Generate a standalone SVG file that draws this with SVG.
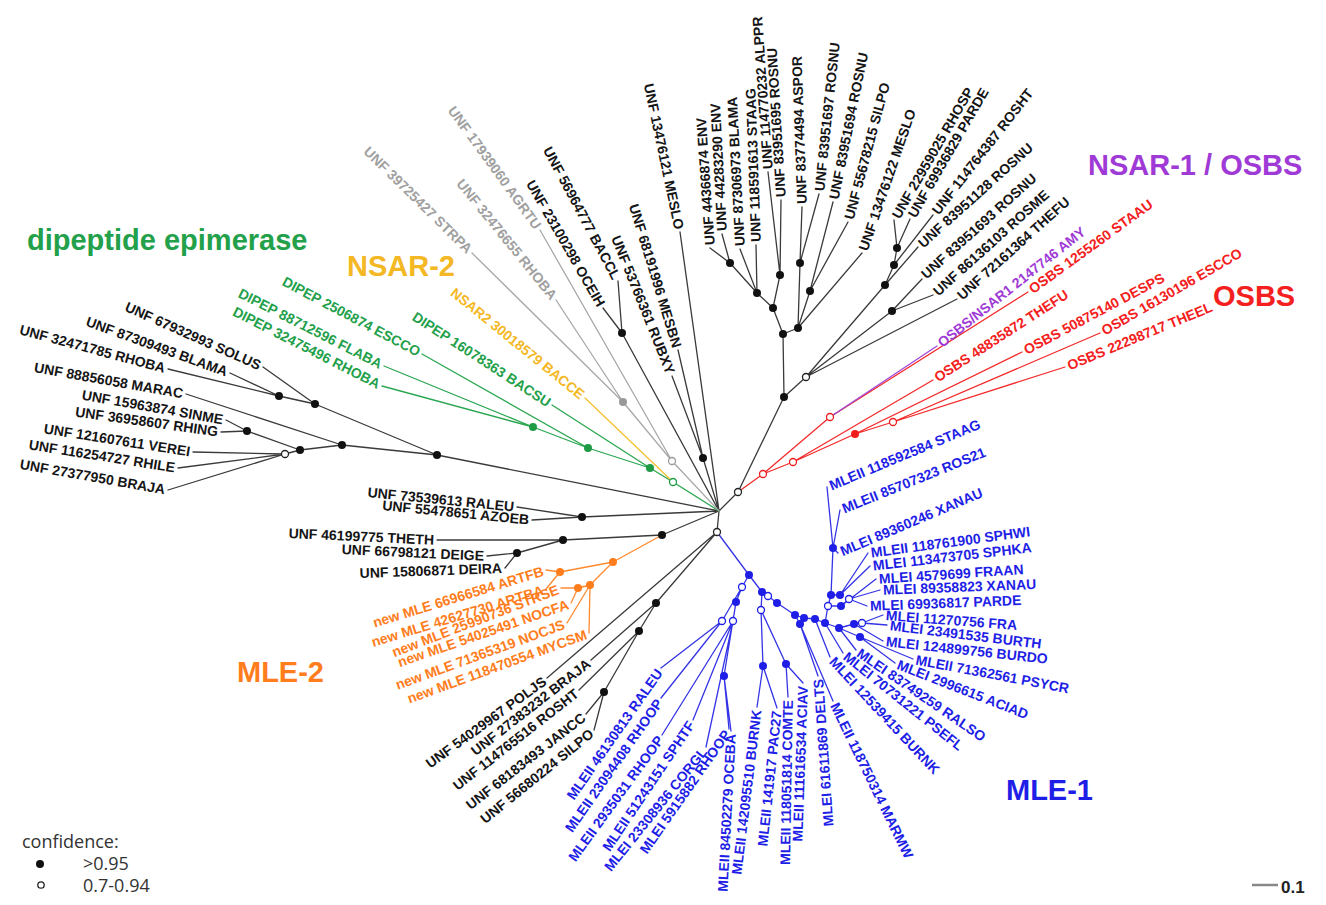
<svg xmlns="http://www.w3.org/2000/svg" width="1326" height="905" viewBox="0 0 1326 905">
<style>
text{font-family:"Liberation Sans",Arial,sans-serif;font-size:14px;font-weight:bold}
.e{text-anchor:end}
.big{font-size:29px}
.k{fill:#151515}.g{fill:#22a04a}.y{fill:#f3b823}.gr{fill:#a0a0a0}.p{fill:#a03ad6}.r{fill:#f42020}.o{fill:#ff7d1c}.b{fill:#1e1ee6}
.ln{fill:none;stroke-width:1.3;stroke-linecap:round}
.lk{stroke:#3a3a3a}.lg{stroke:#2aa650}.ly{stroke:#f5c030}.lgr{stroke:#a8a8a8}.lr{stroke:#f42a2a}.lp{stroke:#a048d8}.lo{stroke:#ff8a30}.lb{stroke:#3434e6}
.fk{fill:#111}.fg{fill:#1f9a45}.fgr{fill:#999}.fr{fill:#f01c1c}.fo{fill:#ff7d1c}.fb{fill:#1e1ee6}
.ok{fill:#fff;stroke:#222;stroke-width:1.3}.og{fill:#fff;stroke:#1f9a45;stroke-width:1.3}.ogr{fill:#fff;stroke:#999;stroke-width:1.3}.or{fill:#fff;stroke:#f01c1c;stroke-width:1.3}.ob{fill:#fff;stroke:#1e1ee6;stroke-width:1.3}
.leg{font-family:"Open Sans","Liberation Sans",sans-serif;font-weight:normal;font-size:18px;fill:#333}
</style>
<rect width="1326" height="905" fill="#fff"/>
<g id="connectors">
<path class="ln lk" d="M719,511L437,455M437,455L315,404M315,404L263,367M315,404L279,396M279,396L230,373M279,396L168,369M437,455L342,445M342,445L186,394M342,445L300,450M300,450L247,431M247,431L226,420M247,431L221,432M300,450L285,454M285,454L193,452M285,454L178,468M285,454L168,490
M719,511L622,333M622,333L618,281M622,333L603,308M719,511L703,458M703,458L678,350M703,458L672,376M719,511L680,232
M719,511L738,492M738,492L784,397M784,397L806,377M784,397L783,334M783,334L773,308M773,308L757,293M757,293L730,263M730,263L710,248M730,263L722,234M757,293L740,249M757,293L756,245M773,308L780,275M780,275L768,172M780,275L781,200M783,334L798,328M798,328L800,263M800,263L802,207M800,263L819,194M798,328L810,291M810,291L833,202M810,291L848,222M798,328L862,253
M806,377L892,311M892,311L933,295M892,311L922,279M806,377L885,285M885,285L894,265M885,285L918,247M894,265L897,248M894,265L933,215M897,248L894,220M897,248L910,219M806,377L957,299
M719,511L582,517M582,517L517,507M582,517L532,520M719,511L662,535M662,535L563,540M563,540L437,540M563,540L517,553M517,553L487,556M517,553L505,568
M719,511L717,532M717,532L547,678M717,532L656,603M656,603L591,660M656,603L639,631M639,631L579,690M639,631L604,692M604,692L586,714M604,692L594,730"/>
<path class="ln lg" d="M719,511L673,482M673,482L650,468M650,468L552,405M650,468L588,448M588,448L422,354M588,448L533,427M533,427L384,366M533,427L382,386"/>
<path class="ln ly" d="M673,482L585,398"/>
<path class="ln lgr" d="M719,511L672,461M672,461L623,402M623,402L472,253M623,402L556,300M672,461L540,230"/>
<path class="ln lr" d="M738,492L763,474M763,474L830,417M830,417L1028,292M763,474L793,462M793,462L933,380M793,462L855,434M855,434L1022,352M855,434L893,422M893,422L1100,333M893,422L1065,367"/>
<path class="ln lp" d="M830,417L937,346"/>
<path class="ln lo" d="M662,535L613,562M613,562L560,572M560,572L546,570M560,572L546,589M613,562L590,585M590,585L578,588M578,588L561,588M578,588L571,603M590,585L567,623M590,585L589,633"/>
<path class="ln lb" d="M717,532L749,575M749,575L742,587M742,587L722,621M722,621L661,668M722,621L661,698M742,587L736,602M736,602L733,621M733,621L662,735M733,621L693,720M733,621L706,747M736,602L724,676M724,676L729,729M724,676L731,731
M749,575L762,592M762,592L761,610M761,610L763,666M763,666L757,707M763,666L777,708M761,610L786,664M786,664L788,697M786,664L803,683M762,592L768,596M768,596L777,603M777,603L795,615M795,615L804,618M795,615L800,624M800,624L818,676M800,624L833,701M804,618L815,619M815,619L830,657M815,619L825,623M825,623L843,653M825,623L839,628M839,628L856,650M839,628L854,624M839,628L860,637M860,637L895,663M860,637L913,659M854,624L883,641M854,624L862,623M862,623L887,625M862,623L883,615
M825,623L828,606M828,606L831,595M831,595L833,548M833,548L827,487M833,548L840,510M833,548L838,553M831,595L840,595M840,595L868,553M840,595L870,566M828,606L841,606M841,606L876,579M841,606L849,599M849,599L880,590M849,599L867,606"/>
</g>
<g id="internal-nodes">
<g class="fk"><circle cx="437" cy="455" r="4"/><circle cx="315" cy="404" r="4"/><circle cx="279" cy="396" r="4"/><circle cx="342" cy="445" r="4"/><circle cx="300" cy="450" r="4"/><circle cx="247" cy="431" r="4"/><circle cx="622" cy="333" r="4"/><circle cx="703" cy="458" r="4"/><circle cx="784" cy="397" r="4"/><circle cx="783" cy="334" r="4"/><circle cx="773" cy="308" r="4"/><circle cx="757" cy="293" r="4"/><circle cx="730" cy="263" r="4"/><circle cx="780" cy="275" r="4"/><circle cx="798" cy="328" r="4"/><circle cx="800" cy="263" r="4"/><circle cx="810" cy="291" r="4"/><circle cx="892" cy="311" r="4"/><circle cx="885" cy="285" r="4"/><circle cx="894" cy="265" r="4"/><circle cx="897" cy="248" r="4"/><circle cx="582" cy="517" r="4"/><circle cx="662" cy="535" r="4"/><circle cx="563" cy="540" r="4"/><circle cx="517" cy="553" r="4"/><circle cx="656" cy="603" r="4"/><circle cx="639" cy="631" r="4"/><circle cx="604" cy="692" r="4"/></g>
<g class="ok"><circle cx="285" cy="454" r="3.5"/><circle cx="738" cy="492" r="3.5"/><circle cx="806" cy="377" r="3.5"/><circle cx="717" cy="532" r="3.5"/></g>
<g class="fg"><circle cx="650" cy="468" r="4"/><circle cx="588" cy="448" r="4"/><circle cx="533" cy="427" r="4"/></g>
<circle class="og" cx="673" cy="482" r="3.5"/>
<circle class="fgr" cx="623" cy="402" r="4"/>
<circle class="ogr" cx="672" cy="461" r="3.5"/>
<g class="or"><circle cx="763" cy="474" r="3.5"/><circle cx="830" cy="417" r="3.5"/><circle cx="793" cy="462" r="3.5"/><circle cx="893" cy="422" r="3.5"/></g>
<circle class="fr" cx="855" cy="434" r="4"/>
<g class="fo"><circle cx="613" cy="562" r="4"/><circle cx="560" cy="572" r="4"/><circle cx="590" cy="585" r="4"/><circle cx="578" cy="588" r="4"/></g>
<g class="fb"><circle cx="749" cy="575" r="4"/><circle cx="736" cy="602" r="4"/><circle cx="724" cy="676" r="4"/><circle cx="762" cy="592" r="4"/><circle cx="763" cy="666" r="4"/><circle cx="786" cy="664" r="4"/><circle cx="777" cy="603" r="4"/><circle cx="795" cy="615" r="4"/><circle cx="804" cy="618" r="4"/><circle cx="800" cy="624" r="4"/><circle cx="815" cy="619" r="4"/><circle cx="825" cy="623" r="4"/><circle cx="839" cy="628" r="4"/><circle cx="854" cy="624" r="4"/><circle cx="860" cy="637" r="4"/><circle cx="831" cy="595" r="4"/><circle cx="833" cy="548" r="4"/><circle cx="840" cy="595" r="4"/><circle cx="841" cy="606" r="4"/></g>
<g class="ob"><circle cx="742" cy="587" r="3.5"/><circle cx="722" cy="621" r="3.5"/><circle cx="733" cy="621" r="3.5"/><circle cx="761" cy="610" r="3.5"/><circle cx="768" cy="596" r="3.5"/><circle cx="862" cy="623" r="3.5"/><circle cx="828" cy="606" r="3.5"/><circle cx="849" cy="599" r="3.5"/></g>
</g>
<g id="leaf-01"><text class="k e" transform="translate(263,367) rotate(24)" x="-3" dy=".35em">UNF 67932993 SOLUS</text></g>
<g id="leaf-02"><text class="k e" transform="translate(230,373) rotate(20)" x="-3" dy=".35em">UNF 87309493 BLAMA</text></g>
<g id="leaf-03"><text class="k e" transform="translate(168,369) rotate(15)" x="-3" dy=".35em">UNF 32471785 RHOBA</text></g>
<g id="leaf-04"><text class="k e" transform="translate(186,394) rotate(10)" x="-3" dy=".35em">UNF 88856058 MARAC</text></g>
<g id="leaf-05"><text class="k e" transform="translate(226,420) rotate(10)" x="-3" dy=".35em">UNF 15963874 SINME</text></g>
<g id="leaf-06"><text class="k e" transform="translate(221,432) rotate(8)" x="-3" dy=".35em">UNF 36958607 RHING</text></g>
<g id="leaf-07"><text class="k e" transform="translate(193,452) rotate(9)" x="-3" dy=".35em">UNF 121607611 VEREI</text></g>
<g id="leaf-08"><text class="k e" transform="translate(178,468) rotate(9)" x="-3" dy=".35em">UNF 116254727 RHILE</text></g>
<g id="leaf-09"><text class="k e" transform="translate(168,490) rotate(10)" x="-3" dy=".35em">UNF 27377950 BRAJA</text></g>
<g id="leaf-10"><text class="g e" transform="translate(552,405) rotate(33)" x="-3" dy=".35em">DIPEP 16078363 BACSU</text></g>
<g id="leaf-11"><text class="g e" transform="translate(422,354) rotate(28)" x="-3" dy=".35em">DIPEP 2506874 ESCCO</text></g>
<g id="leaf-12"><text class="g e" transform="translate(384,366) rotate(27)" x="-3" dy=".35em">DIPEP 88712596 FLABA</text></g>
<g id="leaf-13"><text class="g e" transform="translate(382,386) rotate(27)" x="-3" dy=".35em">DIPEP 32475496 RHOBA</text></g>
<g id="leaf-14"><text class="y e" transform="translate(585,398) rotate(39)" x="-3" dy=".35em">NSAR2 30018579 BACCE</text></g>
<g id="leaf-15"><text class="gr e" transform="translate(472,253) rotate(44.5)" x="-3" dy=".35em">UNF 39725427 STRPA</text></g>
<g id="leaf-16"><text class="gr e" transform="translate(556,300) rotate(51)" x="-3" dy=".35em">UNF 32476655 RHOBA</text></g>
<g id="leaf-17"><text class="gr e" transform="translate(540,230) rotate(54)" x="-3" dy=".35em">UNF 17939060 AGRTU</text></g>
<g id="leaf-18"><text class="k e" transform="translate(618,281) rotate(62)" x="-3" dy=".35em">UNF 56964777 BACCL</text></g>
<g id="leaf-19"><text class="k e" transform="translate(603,308) rotate(60)" x="-3" dy=".35em">UNF 23100298 OCEIH</text></g>
<g id="leaf-20"><text class="k e" transform="translate(678,350) rotate(73)" x="-3" dy=".35em">UNF 68191996 MESBN</text></g>
<g id="leaf-21"><text class="k e" transform="translate(672,376) rotate(68)" x="-3" dy=".35em">UNF 53766361 RUBXY</text></g>
<g id="leaf-22"><text class="k e" transform="translate(680,232) rotate(78)" x="-3" dy=".35em">UNF 13476121 MESLO</text></g>
<g id="leaf-23"><text class="k" transform="translate(710,248) rotate(-94)" x="3" dy=".35em">UNF 44366874 ENV</text></g>
<g id="leaf-24"><text class="k" transform="translate(722,234) rotate(-93)" x="3" dy=".35em">UNF 44283290 ENV</text></g>
<g id="leaf-25"><text class="k" transform="translate(740,249) rotate(-93)" x="3" dy=".35em">UNF 87306973 BLAMA</text></g>
<g id="leaf-26"><text class="k" transform="translate(756,245) rotate(-92)" x="3" dy=".35em">UNF 118591613 STAAG</text></g>
<g id="leaf-27"><text class="k" transform="translate(768,172) rotate(-94)" x="3" dy=".35em">UNF 114770232 ALPPR</text></g>
<g id="leaf-28"><text class="k" transform="translate(781,200) rotate(-93.5)" x="3" dy=".35em">UNF 83951695 ROSNU</text></g>
<g id="leaf-29"><text class="k" transform="translate(802,207) rotate(-92)" x="3" dy=".35em">UNF 83774494 ASPOR</text></g>
<g id="leaf-30"><text class="k" transform="translate(819,194) rotate(-84)" x="3" dy=".35em">UNF 83951697 ROSNU</text></g>
<g id="leaf-31"><text class="k" transform="translate(833,202) rotate(-78.5)" x="3" dy=".35em">UNF 83951694 ROSNU</text></g>
<g id="leaf-32"><text class="k" transform="translate(848,222) rotate(-75)" x="3" dy=".35em">UNF 55678215 SILPO</text></g>
<g id="leaf-33"><text class="k" transform="translate(862,253) rotate(-71)" x="3" dy=".35em">UNF 13476122 MESLO</text></g>
<g id="leaf-34"><text class="k" transform="translate(894,220) rotate(-60)" x="3" dy=".35em">UNF 22959025 RHOSP</text></g>
<g id="leaf-35"><text class="k" transform="translate(910,219) rotate(-60)" x="3" dy=".35em">UNF 69936829 PARDE</text></g>
<g id="leaf-36"><text class="k" transform="translate(933,215) rotate(-52)" x="3" dy=".35em">UNF 114764387 ROSHT</text></g>
<g id="leaf-37"><text class="k" transform="translate(918,247) rotate(-42)" x="3" dy=".35em">UNF 83951128 ROSNU</text></g>
<g id="leaf-38"><text class="k" transform="translate(921,278) rotate(-42)" x="3" dy=".35em">UNF 83951693 ROSNU</text></g>
<g id="leaf-39"><text class="k" transform="translate(933,295) rotate(-42)" x="3" dy=".35em">UNF 86136103 ROSME</text></g>
<g id="leaf-40"><text class="k" transform="translate(957,299) rotate(-42)" x="3" dy=".35em">UNF 72161364 THEFU</text></g>
<g id="leaf-41"><text class="p" transform="translate(937,346) rotate(-38.4)" x="3" dy=".35em">OSBS/NSAR1 2147746 AMY</text></g>
<g id="leaf-42"><text class="r" transform="translate(1028,292) rotate(-36)" x="3" dy=".35em">OSBS 1255260 STAAU</text></g>
<g id="leaf-43"><text class="r" transform="translate(933,380) rotate(-33)" x="3" dy=".35em">OSBS 48835872 THEFU</text></g>
<g id="leaf-44"><text class="r" transform="translate(1022,352) rotate(-28)" x="3" dy=".35em">OSBS 50875140 DESPS</text></g>
<g id="leaf-45"><text class="r" transform="translate(1100,333) rotate(-30)" x="3" dy=".35em">OSBS 16130196 ESCCO</text></g>
<g id="leaf-46"><text class="r" transform="translate(1065,367) rotate(-22.5)" x="3" dy=".35em">OSBS 22298717 THEEL</text></g>
<g id="leaf-47"><text class="k e" transform="translate(517,507) rotate(5.7)" x="-3" dy=".35em">UNF 73539613 RALEU</text></g>
<g id="leaf-48"><text class="k e" transform="translate(532,520) rotate(5.7)" x="-3" dy=".35em">UNF 55478651 AZOEB</text></g>
<g id="leaf-49"><text class="k e" transform="translate(437,540) rotate(2.7)" x="-3" dy=".35em">UNF 46199775 THETH</text></g>
<g id="leaf-50"><text class="k e" transform="translate(487,556) rotate(2.7)" x="-3" dy=".35em">UNF 66798121 DEIGE</text></g>
<g id="leaf-51"><text class="k e" transform="translate(505,568) rotate(-2)" x="-3" dy=".35em">UNF 15806871 DEIRA</text></g>
<g id="leaf-52"><text class="o e" transform="translate(546,570) rotate(-17)" x="-3" dy=".35em">new MLE 66966584 ARTFB</text></g>
<g id="leaf-53"><text class="o e" transform="translate(546,589) rotate(-17)" x="-3" dy=".35em">new MLE 42627730 ARTBA</text></g>
<g id="leaf-54"><text class="o e" transform="translate(561,588) rotate(-21)" x="-3" dy=".35em">new MLE 25990736 STRSE</text></g>
<g id="leaf-55"><text class="o e" transform="translate(571,603) rotate(-19)" x="-3" dy=".35em">new MLE 54025491 NOCFA</text></g>
<g id="leaf-56"><text class="o e" transform="translate(567,623) rotate(-20)" x="-3" dy=".35em">new MLE 71365319 NOCJS</text></g>
<g id="leaf-57"><text class="o e" transform="translate(589,633) rotate(-20)" x="-3" dy=".35em">new MLE 118470554 MYCSM</text></g>
<g id="leaf-58"><text class="k e" transform="translate(547,678) rotate(-36)" x="-3" dy=".35em">UNF 54029967 POLJS</text></g>
<g id="leaf-59"><text class="k e" transform="translate(591,660) rotate(-38)" x="-3" dy=".35em">UNF 27383232 BRAJA</text></g>
<g id="leaf-60"><text class="k e" transform="translate(579,690) rotate(-38)" x="-3" dy=".35em">UNF 114765516 ROSHT</text></g>
<g id="leaf-61"><text class="k e" transform="translate(586,714) rotate(-38)" x="-3" dy=".35em">UNF 68183493 JANCC</text></g>
<g id="leaf-62"><text class="k e" transform="translate(594,730) rotate(-39)" x="-3" dy=".35em">UNF 56680224 SILPO</text></g>
<g id="leaf-63"><text class="b e" transform="translate(661,668) rotate(-55)" x="-3" dy=".35em">MLEII 46130813 RALEU</text></g>
<g id="leaf-64"><text class="b e" transform="translate(661,698) rotate(-55)" x="-3" dy=".35em">MLEII 23094408 RHOOP</text></g>
<g id="leaf-65"><text class="b e" transform="translate(662,735) rotate(-54)" x="-3" dy=".35em">MLEII 2935031 RHOOP</text></g>
<g id="leaf-66"><text class="b e" transform="translate(693,720) rotate(-56)" x="-3" dy=".35em">MLEII 51243151 SPHTF</text></g>
<g id="leaf-67"><text class="b e" transform="translate(706,747) rotate(-51)" x="-3" dy=".35em">MLEI 23308936 CORGL</text></g>
<g id="leaf-68"><text class="b e" transform="translate(729,729) rotate(-55)" x="-3" dy=".35em">MLEI 5915882 RHOOP</text></g>
<g id="leaf-69"><text class="b e" transform="translate(731,731) rotate(-87)" x="-3" dy=".35em">MLEII 84502279 OCEBA</text></g>
<g id="leaf-70"><text class="b e" transform="translate(757,707) rotate(-83)" x="-3" dy=".35em">MLEII 142095510 BURNK</text></g>
<g id="leaf-71"><text class="b e" transform="translate(777,708) rotate(-84)" x="-3" dy=".35em">MLEII 141917 PAC27</text></g>
<g id="leaf-72"><text class="b e" transform="translate(788,697) rotate(-89)" x="-3" dy=".35em">MLEII 118051814 COMTE</text></g>
<g id="leaf-73"><text class="b e" transform="translate(803,683) rotate(-88)" x="-3" dy=".35em">MLEII 111616534 ACIAV</text></g>
<g id="leaf-74"><text class="b e" transform="translate(818,676) rotate(-94)" x="-3" dy=".35em">MLEI 61611869 DELTS</text></g>
<g id="leaf-75"><text class="b" transform="translate(833,701) rotate(64)" x="3" dy=".35em">MLEII 118750314 MARMW</text></g>
<g id="leaf-76"><text class="b" transform="translate(830,657) rotate(47)" x="3" dy=".35em">MLEI 12539415 BURNK</text></g>
<g id="leaf-77"><text class="b" transform="translate(843,653) rotate(38.6)" x="3" dy=".35em">MLEI 70731221 PSEFL</text></g>
<g id="leaf-78"><text class="b" transform="translate(856,650) rotate(34.5)" x="3" dy=".35em">MLEI 83749259 RALSO</text></g>
<g id="leaf-79"><text class="b" transform="translate(895,663) rotate(21.3)" x="3" dy=".35em">MLEI 2996615 ACIAD</text></g>
<g id="leaf-80"><text class="b" transform="translate(913,659) rotate(10.7)" x="3" dy=".35em">MLEII 71362561 PSYCR</text></g>
<g id="leaf-81"><text class="b" transform="translate(883,641) rotate(6.2)" x="3" dy=".35em">MLEI 124899756 BURDO</text></g>
<g id="leaf-82"><text class="b" transform="translate(887,625) rotate(7)" x="3" dy=".35em">MLEI 23491535 BURTH</text></g>
<g id="leaf-83"><text class="b" transform="translate(883,615) rotate(4.3)" x="3" dy=".35em">MLEI 11270756 FRA</text></g>
<g id="leaf-84"><text class="b" transform="translate(867,606) rotate(-2.2)" x="3" dy=".35em">MLEI 69936817 PARDE</text></g>
<g id="leaf-85"><text class="b" transform="translate(880,590) rotate(-2.2)" x="3" dy=".35em">MLEI 89358823 XANAU</text></g>
<g id="leaf-86"><text class="b" transform="translate(876,579) rotate(-3.8)" x="3" dy=".35em">MLEI 4579699 FRAAN</text></g>
<g id="leaf-87"><text class="b" transform="translate(870,566) rotate(-6.6)" x="3" dy=".35em">MLEI 113473705 SPHKA</text></g>
<g id="leaf-88"><text class="b" transform="translate(868,553) rotate(-7.6)" x="3" dy=".35em">MLEII 118761900 SPHWI</text></g>
<g id="leaf-89"><text class="b" transform="translate(838,553) rotate(-23)" x="3" dy=".35em">MLEI 89360246 XANAU</text></g>
<g id="leaf-90"><text class="b" transform="translate(840,510) rotate(-22)" x="3" dy=".35em">MLEII 85707323 ROS21</text></g>
<g id="leaf-91"><text class="b" transform="translate(827,487) rotate(-22.6)" x="3" dy=".35em">MLEII 118592584 STAAG</text></g>
<g id="clade-labels">
<text class="big g" x="27" y="250">dipeptide epimerase</text>
<text class="big y" x="347" y="276">NSAR-2</text>
<text class="big p" x="1088" y="175">NSAR-1 / OSBS</text>
<text class="big r" x="1213" y="306">OSBS</text>
<text class="big o" x="237" y="682">MLE-2</text>
<text class="big b" x="1006" y="800">MLE-1</text>
</g>
<g id="legend">
<text class="leg" x="22" y="848">confidence:</text>
<circle cx="40" cy="864" r="4" fill="#111"/>
<text class="leg" x="83" y="870">&gt;0.95</text>
<circle cx="41" cy="885" r="3.2" fill="#fff" stroke="#222" stroke-width="1.3"/>
<text class="leg" x="83" y="892">0.7-0.94</text>
</g>
<g id="scale-bar">
<line x1="1252" y1="885" x2="1278" y2="885" stroke="#888" stroke-width="2.5"/>
<text x="1281" y="893" style="font-size:17px;fill:#222">0.1</text>
</g>
</svg>
